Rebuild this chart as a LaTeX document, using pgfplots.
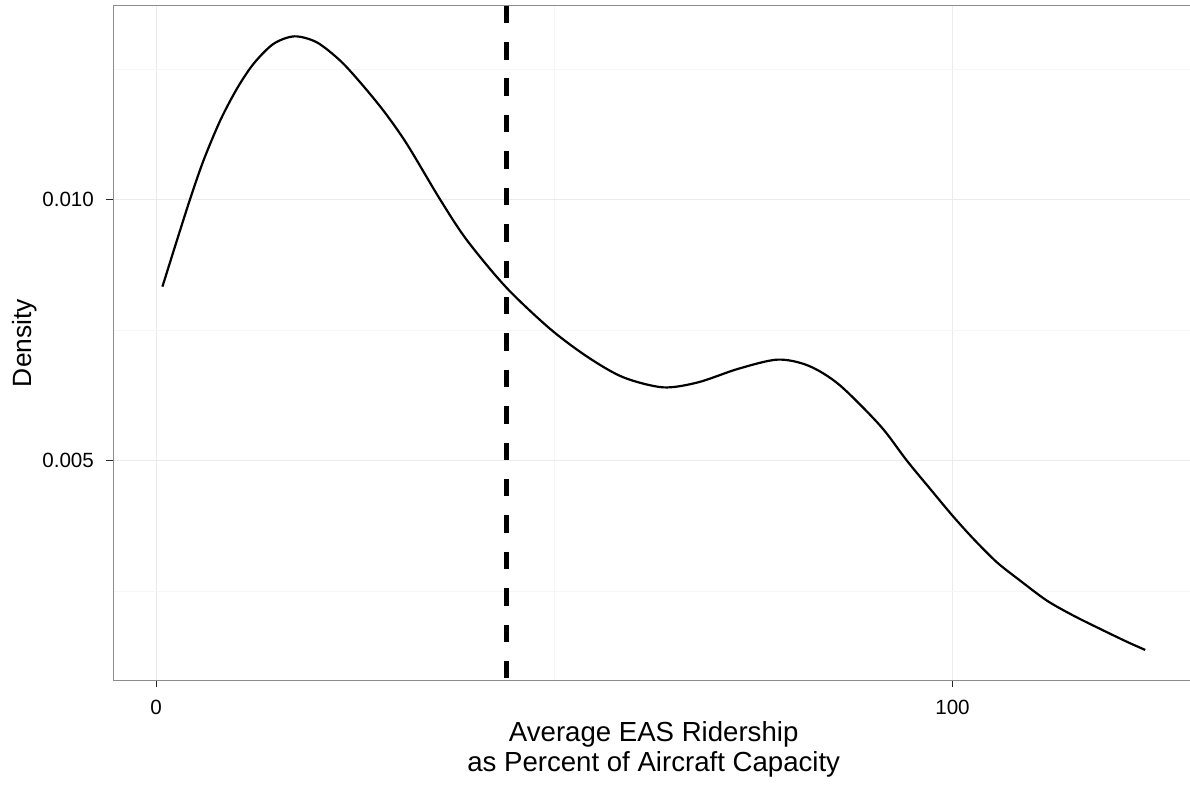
\documentclass[border=0pt]{standalone}
\usepackage{fontspec}
\setmainfont{Liberation Sans}
\usepackage{pgfplots}
\pgfplotsset{compat=1.18}
\definecolor{majgrid}{HTML}{EBEBEB}
\definecolor{mingrid}{HTML}{F6F6F6}
\definecolor{bordergray}{HTML}{8C8C8C}
\pgfplotstableread{
x d
0.79 0.008333
2.60 0.009215
4.27 0.010013
5.94 0.010747
8.04 0.011513
10.13 0.012121
12.22 0.012600
14.73 0.012983
17.37 0.013128
20.18 0.013013
23.11 0.012663
25.62 0.012247
28.54 0.011705
31.48 0.011067
35.67 0.010000
39.02 0.009224
43.95 0.008320
49.48 0.007523
54.25 0.006979
58.67 0.006596
63.66 0.006404
68.06 0.006500
73.05 0.006757
78.02 0.006935
81.89 0.006820
85.76 0.006456
90.92 0.005670
94.27 0.005000
97.20 0.004458
100.00 0.003946
102.64 0.003500
105.58 0.003052
108.50 0.002701
111.86 0.002318
115.19 0.002031
118.55 0.001776
121.90 0.001530
124.20 0.001374
}\densitytable
\begin{document}
\begin{tikzpicture}
\begin{axis}[
  at={(0,0)}, anchor=south west,
  scale only axis,
  width=540.4bp, height=337.3bp,
  xmin=-5.38, xmax=130.34,
  ymin=0.000792, ymax=0.013715,
  xtick={0,100}, xticklabels={0,100},
  ytick={0.005,0.010}, yticklabels={0.005,0.010},
  scaled x ticks=false, scaled y ticks=false,
  minor xtick={50},
  minor ytick={0.0025,0.0075,0.0125},
  grid=both,
  major grid style={draw=majgrid, line width=0.6bp},
  minor grid style={draw=mingrid, line width=0.6bp},
  xtick pos=bottom, ytick pos=left,
  tick align=outside,
  major tick length=3.5bp,
  minor tick length=0pt,
  every tick/.style={black!85, line width=0.6bp},
  axis line style={draw=bordergray, line width=0.7bp},
  /pgf/number format/assume math mode=true,
  ticklabel style={font=\fontsize{10.3bp}{12bp}\selectfont, text=black},
  yticklabel style={anchor=east, inner sep=0pt, xshift=-6bp},
  xticklabel style={anchor=north, inner sep=0pt, yshift=-6bp},
  xlabel={Average EAS Ridership\\as Percent of Aircraft Capacity},
  xlabel style={at={([yshift=-45.7bp]rel axis cs:0.5,0)}, anchor=base, align=center, font=\fontsize{13.8bp}{15bp}\selectfont},
  ylabel={Density},
  ylabel style={at={([xshift=-40.8bp]rel axis cs:0,0.5)}, anchor=base, font=\fontsize{13.2bp}{15bp}\selectfont},
  clip=true,
]
\addplot[black, line width=1.1bp, smooth] table[x=x, y=d] {\densitytable};
\addplot[black, line width=2.2bp, dash pattern=on 8.75bp off 9.45bp] coordinates {(44.0,0.013715) (44.0,0.000792)};
\end{axis}
\pgfresetboundingbox
\useasboundingbox (-56.65bp,-52.35bp) rectangle (538.35bp,340.15bp);
\end{tikzpicture}
\end{document}
